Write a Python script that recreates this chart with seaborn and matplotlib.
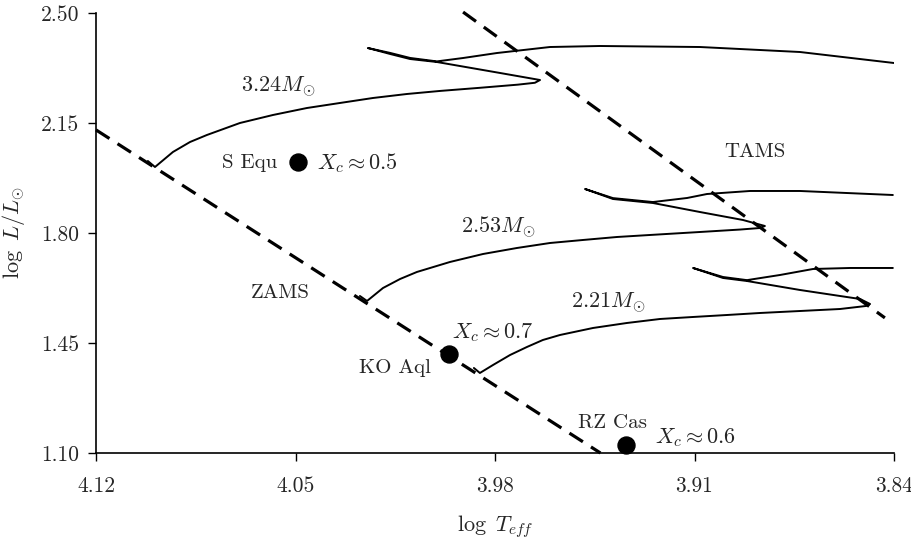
import matplotlib
matplotlib.use("Agg")
import matplotlib.pyplot as plt
import seaborn as sns
import pandas as pd

# ---- data ----
zams_x = [4.120, 3.943]
zams_y = [2.128, 1.100]
tams_x = [3.9912, 3.8432]
tams_y = [2.503, 1.530]

# 3.24 Msun track: main sequence, hook, contraction, then crossing
track324_x = [4.1018, 4.0993, 4.0930, 4.0870, 4.0811, 4.0695, 4.0579, 4.0460, 4.0344, 4.0228,
              4.0109, 3.9993, 3.9853, 3.9720, 3.9660, 3.9642,
              3.9782, 4.0004, 4.0098, 4.0168, 4.0246,
              4.0168, 4.0098, 4.0004,
              3.9912, 3.9793, 3.9607, 3.9432, 3.9081, 3.8730, 3.8400]
track324_y = [2.0291, 2.0100, 2.0578, 2.0896, 2.1118, 2.1500, 2.1755, 2.1977, 2.2137, 2.2296,
              2.2423, 2.2520, 2.2620, 2.2720, 2.2780, 2.2868,
              2.3091, 2.3441, 2.3536, 2.3696, 2.3886,
              2.3730, 2.3570, 2.3460,
              2.3568, 2.3727, 2.3918, 2.3950, 2.3918, 2.3759, 2.3409]

# 2.53 Msun track
track253_x = [4.0274, 4.0249, 4.0193, 4.0133, 4.0074, 3.9958, 3.9842, 3.9723, 3.9607, 3.9491,
              3.9372, 3.9256, 3.9081, 3.8940, 3.8870, 3.8853,
              3.8930, 3.9081, 3.9246, 3.9386, 3.9484,
              3.9386, 3.9246,
              3.9126, 3.9056, 3.8905, 3.8730, 3.8404]
track253_y = [1.5996, 1.5837, 1.6250, 1.6537, 1.6760, 1.7078, 1.7332, 1.7523, 1.7682, 1.7778,
              1.7873, 1.7937, 1.8032, 1.8110, 1.8159, 1.8223,
              1.8414, 1.8668, 1.8955, 1.9082, 1.9400,
              1.9110, 1.8985,
              1.9114, 1.9241, 1.9337, 1.9337, 1.9209]

# 2.21 Msun track
track221_x = [3.9874, 3.9853, 3.9807, 3.9747, 3.9688, 3.9632, 3.9572, 3.9456, 3.9337, 3.9221,
              3.9105, 3.8986, 3.8870, 3.8730, 3.8589, 3.8498, 3.8484,
              3.8519, 3.8730, 3.8916, 3.9000, 3.9105,
              3.9000, 3.8916,
              3.8800, 3.8684, 3.8554, 3.8404]
track221_y = [1.3705, 1.3546, 1.3800, 1.4119, 1.4373, 1.4596, 1.4755, 1.4978, 1.5137, 1.5264,
              1.5328, 1.5391, 1.5455, 1.5518, 1.5582, 1.5678, 1.5741,
              1.5900, 1.6187, 1.6473, 1.6569, 1.6887,
              1.6600, 1.6500,
              1.6664, 1.6855, 1.6887, 1.6887]

star_names = ["S Equ", "KO Aql", "RZ Cas"]
star_x = [4.0491, 3.9961, 3.9340]
star_y = [2.0259, 1.4150, 1.1255]
star_xc = [r"$X_c\approx0.5$", r"$X_c\approx0.7$", r"$X_c\approx0.6$"]

mass_labels = [r"$3.24M_{\odot}$", r"$2.53M_{\odot}$", r"$2.21M_{\odot}$"]

xticks = [4.12, 4.05, 3.98, 3.91, 3.84]
yticks = [1.10, 1.45, 1.80, 2.15, 2.50]

# ---- style ----
sns.set_style("ticks")
plt.rcParams['font.family'] = ['cmr10', 'DejaVu Serif']
plt.rcParams['mathtext.fontset'] = 'cm'
plt.rcParams['axes.formatter.use_mathtext'] = True

fig = plt.figure(figsize=(9.12, 5.42), dpi=100)
ax = fig.add_axes([96/912, 1-453/542, (894-96)/912, (453-13)/542])

for tx, ty in [(track324_x, track324_y), (track253_x, track253_y), (track221_x, track221_y)]:
    df = pd.DataFrame({"x": tx, "y": ty})
    sns.lineplot(data=df, x="x", y="y", sort=False, estimator=None, color="black",
                 linewidth=1.4, ax=ax)
    ax.lines[-1].set_solid_joinstyle("round")

for lx, ly in [(zams_x, zams_y), (tams_x, tams_y)]:
    df = pd.DataFrame({"x": lx, "y": ly})
    sns.lineplot(data=df, x="x", y="y", sort=False, estimator=None, color="black",
                 linewidth=2.3, ax=ax)
    ax.lines[-1].set_dashes([5, 3])
    ax.lines[-1].set_clip_on(False)

sns.scatterplot(x=star_x, y=star_y, color="black", s=150, ax=ax, zorder=5,
                edgecolor="black", clip_on=False)

fs = 15
fm = 16
# star labels
ax.text(4.0565, 2.0228, star_names[0], ha="right", va="center", fontsize=fs)
ax.text(4.0425, 2.0228, star_xc[0], ha="left", va="center", fontsize=fm)
ax.text(4.0151, 1.3705, star_names[1], ha="center", va="center", fontsize=fs)
ax.text(3.9807, 1.4819, star_xc[1], ha="center", va="center", fontsize=fm)
ax.text(3.9389, 1.1955, star_names[2], ha="center", va="center", fontsize=fs)
ax.text(3.9095, 1.1478, star_xc[2], ha="center", va="center", fontsize=fm)

# mass labels
ax.text(4.0561, 2.2646, mass_labels[0], ha="center", va="center", fontsize=fm)
ax.text(3.9789, 1.8191, mass_labels[1], ha="center", va="center", fontsize=fm)
ax.text(3.9404, 1.5773, mass_labels[2], ha="center", va="center", fontsize=fm)

ax.text(4.0554, 1.6091, "ZAMS", ha="center", va="center", fontsize=fs)
ax.text(3.8888, 2.0578, "TAMS", ha="center", va="center", fontsize=fs)

ax.set_xlim(4.12, 3.84)
ax.set_ylim(1.10, 2.50)
ax.set_xticks(xticks)
ax.set_xticklabels([f"{v:.2f}" for v in xticks])
ax.set_yticks(yticks)
ax.set_yticklabels([f"{v:.2f}" for v in yticks])
ax.tick_params(axis="both", labelsize=15.5, length=6, width=1, color="black")
ax.tick_params(axis="x", pad=11)
ax.tick_params(axis="y", pad=6)
ax.set_xlabel(r"$\log\ T_{eff}$", fontsize=16, labelpad=12)
ax.set_ylabel(r"$\log\ L/L_{\odot}$", fontsize=16, labelpad=10)
sns.despine(ax=ax)
for s in ["left", "bottom"]:
    ax.spines[s].set_linewidth(1.2)
    ax.spines[s].set_color("black")

fig.savefig("out.png", dpi=100)
